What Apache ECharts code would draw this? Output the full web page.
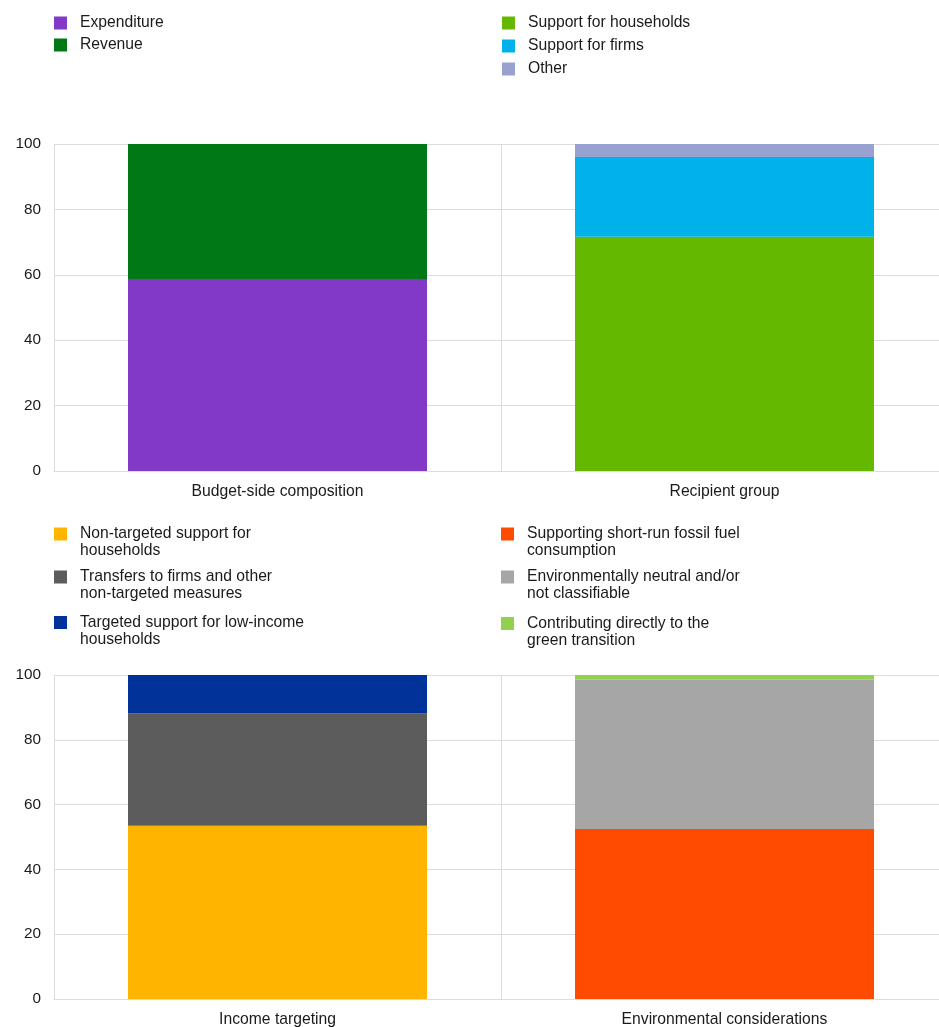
<!DOCTYPE html>
<html>
<head>
<meta charset="utf-8">
<script src="https://cdn.jsdelivr.net/npm/echarts@6/dist/echarts.min.js"></script>
<style>
html,body{margin:0;padding:0;background:#fff;}
#chart{width:939px;height:1027px;}
</style>
</head>
<body>
<div id="chart"></div>
<script>
// ---- data ----
const topCategories = ['Budget-side composition', 'Recipient group'];
const bottomCategories = ['Income targeting', 'Environmental considerations'];
const yTicks = [0, 20, 40, 60, 80, 100];

const expenditure = [58.7, '-'];
const revenue = [41.3, '-'];
const supportHouseholds = ['-', 71.6];
const supportFirms = ['-', 24.4];
const otherRecipients = ['-', 4.0];

const nonTargeted = [53.5, '-'];
const transfersFirms = [34.6, '-'];
const targetedLowIncome = [11.9, '-'];
const fossilFuel = ['-', 52.5];
const envNeutral = ['-', 46.0];
const greenTransition = ['-', 1.5];

const topLabels = ['Expenditure', 'Revenue', 'Support for households', 'Support for firms', 'Other'];
const bottomLabels = [
  'Non-targeted support for\nhouseholds',
  'Transfers to firms and other\nnon-targeted measures',
  'Targeted support for low-income\nhouseholds',
  'Supporting short-run fossil fuel\nconsumption',
  'Environmentally neutral and/or\nnot classifiable',
  'Contributing directly to the\ngreen transition'
];

// ---- styles ----
const topColors = ['#8139C6', '#007816', '#65B800', '#00B1EA', '#98A1D0'];
const bottomColors = ['#FFB400', '#5C5C5C', '#003299', '#FF4B00', '#A6A6A6', '#92D050'];
const FONT = 'Liberation Sans, Arial, sans-serif';
const TEXT = '#1a1a1a';
const GRIDC = '#dcdcdc';

const nameOf = s => s.replace('\n', ' ');

const topData = [expenditure, revenue, supportHouseholds, supportFirms, otherRecipients];
const bottomData = [nonTargeted, transfersFirms, targetedLowIncome, fossilFuel, envNeutral, greenTransition];

const series = [];
topLabels.forEach((l, i) => series.push({
  name: nameOf(l), type: 'bar', stack: 'top', xAxisIndex: 0, yAxisIndex: 0,
  data: topData[i], barWidth: 299, itemStyle: {color: topColors[i]}, emphasis: {disabled: true}
}));
bottomLabels.forEach((l, i) => series.push({
  name: nameOf(l), type: 'bar', stack: 'bottom', xAxisIndex: 1, yAxisIndex: 1,
  data: bottomData[i], barWidth: 299, itemStyle: {color: bottomColors[i]}, emphasis: {disabled: true}
}));

// legend positions (square left / top)
const topLegendPos = [[54, 16.5], [54, 38.5], [502, 16.5], [502, 39.5], [502, 62.5]];
const bottomLegendPos = [[54, 527.5], [54, 570.5], [54, 616], [501, 527.5], [501, 570.5], [501, 617]];

function legendItem(label, pos) {
  const lines = label.split('\n').length;
  const off = lines > 1 ? 19 : 2;
  const shown = lines > 1 ? '\n' + label : label;
  return {
    data: [nameOf(label)], left: pos[0], top: pos[1] - off, orient: 'vertical',
    padding: 0, itemWidth: 13, itemHeight: 13, icon: 'rect', selectedMode: false,
    formatter: () => shown,
    textStyle: {fontSize: 15.7, fontFamily: FONT, color: TEXT, lineHeight: 17, padding: [0, 0, 0, 8]}
  };
}
const legends = [];
topLabels.forEach((l, i) => legends.push(legendItem(l, topLegendPos[i])));
bottomLabels.forEach((l, i) => legends.push(legendItem(l, bottomLegendPos[i])));

function xAxis(idx, cats) {
  return {
    type: 'category', gridIndex: idx, data: cats,
    axisLine: {show: true, lineStyle: {color: GRIDC, width: 1}},
    axisTick: {show: false},
    splitLine: {show: true, lineStyle: {color: GRIDC, width: 1}},
    axisLabel: {fontSize: 15.7, fontFamily: FONT, color: TEXT, margin: 13}
  };
}
function yAxis(idx) {
  return {
    type: 'value', gridIndex: idx, min: yTicks[0], max: yTicks[yTicks.length - 1], interval: yTicks[1] - yTicks[0],
    axisLine: {show: true, lineStyle: {color: GRIDC, width: 1}},
    axisTick: {show: false},
    splitLine: {show: true, lineStyle: {color: GRIDC, width: 1}},
    axisLabel: {fontSize: 15.3, fontFamily: FONT, color: TEXT, margin: 13}
  };
}

const chart = echarts.init(document.getElementById('chart'), null, {renderer: 'canvas'});
chart.setOption({
  animation: false,
  backgroundColor: '#ffffff',
  legend: legends,
  grid: [
    {left: 54, top: 144, width: 894, height: 327, outerBoundsMode: 'none', containLabel: false},
    {left: 54, top: 675, width: 894, height: 324, outerBoundsMode: 'none', containLabel: false}
  ],
  xAxis: [xAxis(0, topCategories), xAxis(1, bottomCategories)],
  yAxis: [yAxis(0), yAxis(1)],
  series: series
});
</script>
</body>
</html>
